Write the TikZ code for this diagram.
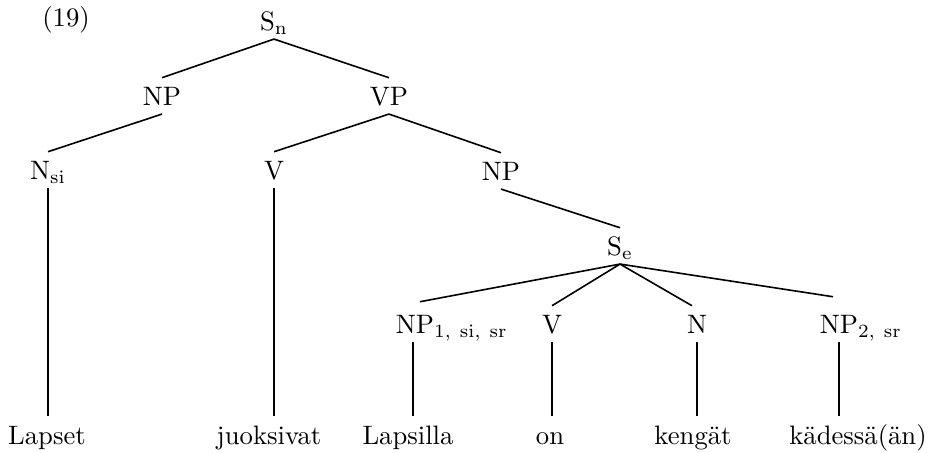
\documentclass[tikz,border=0pt]{standalone}
\begin{document}
\begin{tikzpicture}[x=0.375pt,y=-0.375pt,
  cat/.style={inner sep=0pt, outer sep=3.4pt, text height=6.83pt, text depth=0pt, anchor=base},
  word/.style={inner sep=0pt, outer sep=3.4pt, text height=6.94pt, anchor=base},
  edge/.style={line width=0.6pt}]
\useasboundingbox (0,0) rectangle (943,452);
% label
\node[anchor=base, inner sep=0pt] (num) at (66,26) {(19)};
% categories
\node[cat] (Sn)  at (274,30)  {S$_{\mathrm{n}}$};
\node[cat] (NP)  at (162,105) {NP};
\node[cat] (VP)  at (389,105) {VP};
\node[cat] (Nsi) at (48,179)  {N$_{\mathrm{si}}$};
\node[cat] (V)   at (274,179) {V};
\node[cat] (NPr) at (501,180) {NP};
\node[cat] (Se)  at (620,255) {S$_{\mathrm{e}}$};
\node[cat] (NPa) at (415,333) {NP\rlap{$_{\mathrm{1,\ si,\ sr}}$}};
\node[cat] (Vb)  at (552,333) {V};
\node[cat] (Nb)  at (697,333) {N};
\node[cat] (NPc) at (839,333) {NP\rlap{$_{\mathrm{2,\ sr}}$}};
% words
\node[word] (w1) at (47,444)  {Lapset};
\node[word] (w2) at (269,444) {juoksivat};
\node[word] (w3) at (408,444) {Lapsilla};
\node[word] (w4) at (550,444) {on};
\node[word] (w5) at (693,444) {kengät};
\node[word] (w6) at (858,444) {kädessä(än)};
% branches
\draw[edge] (Sn.south) -- (NP.north);
\draw[edge] (Sn.south) -- (VP.north);
\draw[edge] (NP.south) -- (Nsi.north);
\draw[edge] (VP.south) -- (V.north);
\draw[edge] (VP.south) -- (NPr.north);
\draw[edge] (NPr.south) -- (Se.north);
\draw[edge] (Se.south) -- ([shift={(5,-4)}]NPa.north);
\draw[edge] (Se.south) -- (Vb.north);
\draw[edge] (Se.south) -- ([shift={(-5,0)}]Nb.north);
\draw[edge] (Se.south) -- ([shift={(-6,-9)}]NPc.north);
% verticals
\draw[edge] (Nsi.south) -- (Nsi.south |- w1.north);
\draw[edge] (V.south) -- (V.south |- w2.north);
\draw[edge] ([xshift=-0.75pt]NPa.south) -- ([xshift=-0.75pt]NPa.south |- w3.north);
\draw[edge] (Vb.south) -- (Vb.south |- w4.north);
\draw[edge] (Nb.south) -- (Nb.south |- w5.north);
\draw[edge] (NPc.south) -- (NPc.south |- w6.north);
\end{tikzpicture}
\end{document}
